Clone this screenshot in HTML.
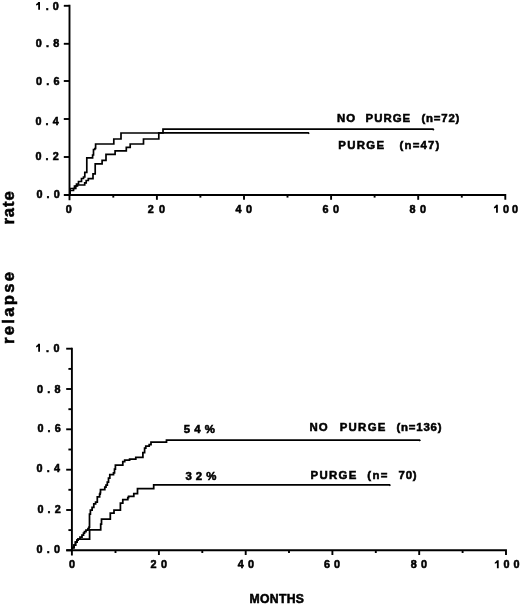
<!DOCTYPE html>
<html><head><meta charset="utf-8"><style>
html,body{margin:0;padding:0;background:#fff;width:520px;height:605px;overflow:hidden}
svg{display:block;will-change:transform}
text{font-family:"Liberation Sans",sans-serif;font-weight:bold;fill:#000;stroke:#000;stroke-width:0.55px}
</style></head><body>
<svg width="520" height="605" viewBox="0 0 520 605">
<g fill="none" stroke="#000" stroke-width="1.9" stroke-linecap="butt">
<path d="M69.5,4.8V200.3M64.2,195.0H505.3V199.8" />
<path d="M63.8,5.8H69.5" />
<path d="M63.8,43.8H69.5" />
<path d="M63.8,81.0H69.5" />
<path d="M63.8,119.0H69.5" />
<path d="M63.8,157.0H69.5" />
<path d="M63.8,195.0H69.5" />
<path d="M156.9,195.0V199.8" />
<path d="M244.0,195.0V199.8" />
<path d="M331.1,195.0V199.8" />
<path d="M418.2,195.0V199.8" />
<path d="M113.3,195.0V197.6" />
<path d="M200.4,195.0V197.6" />
<path d="M287.5,195.0V197.6" />
<path d="M374.6,195.0V197.6" />
<path d="M461.8,195.0V197.6" />
<path d="M71.9,347.7V555.5M66.3,550.3H506V555" />
<path d="M66.2,348.7H71.9" />
<path d="M68.4,368.9H71.9" />
<path d="M66.2,389.0H71.9" />
<path d="M68.4,409.2H71.9" />
<path d="M66.2,429.3H71.9" />
<path d="M68.4,449.5H71.9" />
<path d="M66.2,469.7H71.9" />
<path d="M68.4,489.8H71.9" />
<path d="M66.2,510.0H71.9" />
<path d="M68.4,530.1H71.9" />
<path d="M66.2,550.3H71.9" />
<path d="M115.5,550.3V553" />
<path d="M158.9,550.3V555" />
<path d="M202.3,550.3V553" />
<path d="M245.7,550.3V555" />
<path d="M289.0,550.3V553" />
<path d="M332.4,550.3V555" />
<path d="M375.8,550.3V553" />
<path d="M419.2,550.3V555" />
<path d="M462.6,550.3V553" />
</g>
<g fill="none" stroke="#000" stroke-width="1.7" stroke-linejoin="miter" stroke-linecap="butt">
<path d="M70,194 V188.5 H74.5 V186 H76.5 V184 H78.5 V181.5 H81.5 V178.5 H83.5 V177 H84.8 V172.3 H86.8 V157.8 H92.6 V155 H93.5 V149.5 H94.8 V148.5 H95.6 V144 H113.8 V139 H121 V133 H163 V129.1 H433 l0.8,1"/>
<path d="M70,194 V190.5 H73.5 V188.5 H75.8 V186 H77.5 V185 H84.7 V182.8 H86.2 V180.5 H88.3 V178.6 H93 V173.8 H95.2 V163.8 H102.1 V160.3 H106 V154.3 H115.1 V150.8 H126.3 V147.4 H130.2 V144 H143.5 V139 H158.8 V132.8 H308.3 l0.8,1"/>
</g>
<g fill="none" stroke="#000" stroke-width="1.75" stroke-linejoin="miter" stroke-linecap="butt">
<path d="M72.4,549 V547.5 H74 V545 H75.5 V542 H77 V540 H78 V539 H80 V537 H82 V535 H83.5 V533 H84.5 V531.5 H86 V530 H88 V528.5 H89 V527 H89.5 V514.2 H90.4 V510.2 H92.1 V507.3 H93.8 V503.8 H95.6 V502 H97.3 V496.9 H99.6 V494 H100.2 V492.5 H100.5 V489.6 H104.8 V487.1 H106 V485 H107.3 V482.1 H108.5 V478 H109.8 V474.7 H113.5 V472.8 H114.5 V469 H115.4 V465 H122.8 V461.5 H124.7 V460 H129.6 V459.2 H135.8 V457.3 H142.9 V452.5 H144.6 V448 H145.8 V446.2 H149.2 V444.5 H151 V442.1 H166.5 V440 H419.5 l0.8,1"/>
<path d="M72.4,549 V547.5 H74 V545 H75.5 V542 H77 V540 H78 V539 H89.6 V529.8 H100.7 V524 H101.5 V519.2 H110.3 V513 H114 V510 H120.4 V503.2 H122.8 V499.5 H127.8 V497.7 H128.6 V496.4 H133.8 V493.6 H137.5 V488.6 H153.7 V484.8 H389.5 l0.8,1"/>
</g>
<g>
<text x="45.80 52.80" y="9.75" font-size="10.8">.0</text>
<text x="35.8" y="47.45" font-size="10.8" letter-spacing="4.2" text-anchor="start" >0.8</text>
<text x="36.0" y="84.95" font-size="10.8" letter-spacing="4.2" text-anchor="start" >0.6</text>
<text x="35.4" y="124.55" font-size="10.8" letter-spacing="4.2" text-anchor="start" >0.4</text>
<text x="35.4" y="160.35" font-size="10.8" letter-spacing="4.2" text-anchor="start" >0.2</text>
<text x="36.4" y="198.45" font-size="10.8" letter-spacing="4.2" text-anchor="start" >0.0</text>
<text x="46.10 53.40" y="351.65" font-size="10.8">.0</text>
<text x="37.0" y="392.95" font-size="10.8" letter-spacing="4.2" text-anchor="start" >0.8</text>
<text x="37.4" y="431.95" font-size="10.8" letter-spacing="4.2" text-anchor="start" >0.6</text>
<text x="36.6" y="472.35" font-size="10.8" letter-spacing="4.2" text-anchor="start" >0.4</text>
<text x="37.4" y="512.85" font-size="10.8" letter-spacing="4.2" text-anchor="start" >0.2</text>
<text x="36.6" y="552.95" font-size="10.8" letter-spacing="4.2" text-anchor="start" >0.0</text>
<text x="65.70" y="212.7" font-size="10.8">0</text>
<text x="147.80 158.90" y="212.7" font-size="10.8">20</text>
<text x="235.50 245.90" y="212.7" font-size="10.8">40</text>
<text x="322.60 333.00" y="212.7" font-size="10.8">60</text>
<text x="409.50 419.90" y="212.7" font-size="10.8">80</text>
<text x="503.10 512.00" y="212.7" font-size="10.8">00</text>
<text x="68.90" y="568.1" font-size="10.8">0</text>
<text x="150.50 160.90" y="568.1" font-size="10.8">20</text>
<text x="237.70 247.90" y="568.1" font-size="10.8">40</text>
<text x="323.90 333.90" y="568.1" font-size="10.8">60</text>
<text x="410.70 420.90" y="568.1" font-size="10.8">80</text>
<text x="503.60 513.50" y="568.1" font-size="10.8">00</text>
<text x="337" y="121.8" font-size="11.4" letter-spacing="1.0" text-anchor="start" >NO</text>
<text x="365.6" y="121.6" font-size="11.4" letter-spacing="1.0" text-anchor="start" >PURGE</text>
<text x="421.5" y="121.8" font-size="11.4" letter-spacing="0.8" text-anchor="start" >(n=72)</text>
<text x="338.3" y="148.7" font-size="11.4" letter-spacing="1.3" text-anchor="start" >PURGE</text>
<text x="399.5" y="148.7" font-size="11.4" letter-spacing="1.2" text-anchor="start" >(n=47)</text>
<text x="309.5" y="431.3" font-size="11.4" letter-spacing="1.0" text-anchor="start" >NO</text>
<text x="339.7" y="431.3" font-size="11.4" letter-spacing="1.3" text-anchor="start" >PURGE</text>
<text x="396.5" y="431.3" font-size="11.4" letter-spacing="0.8" text-anchor="start" >(n=136)</text>
<text x="310.6" y="478.8" font-size="11.4" letter-spacing="1.3" text-anchor="start" >PURGE</text>
<text x="367.2" y="478.8" font-size="11.4" letter-spacing="1.4" text-anchor="start" >(n=</text>
<text x="398.5" y="478.8" font-size="11.4" letter-spacing="0.8" text-anchor="start" >70)</text>
<text x="183.8" y="433.2" font-size="11.4" letter-spacing="4.1" text-anchor="start" >54%</text>
<text x="185.4" y="479.8" font-size="11.4" letter-spacing="4.1" text-anchor="start" >32%</text>
<text x="249.6" y="603.2" font-size="12.2" letter-spacing="0.3" text-anchor="start" >MONTHS</text>
<text x="0" y="0" font-size="16.6" letter-spacing="1.0" text-anchor="start" transform="translate(14.0,224.6) rotate(-90)">rate</text>
<text x="0" y="0" font-size="16.6" letter-spacing="2.3" text-anchor="start" transform="translate(14.0,344.0) rotate(-90)">relapse</text>
</g>
<g fill="#000" stroke="none">
<path d="M38.20,1.90 H40.00 V9.85 H38.20 V4.70 L36.10,5.50 V4.10 Q37.70,3.40 38.20,1.90 Z" />
<path d="M38.20,343.80 H40.00 V351.75 H38.20 V346.60 L36.10,347.40 V346.00 Q37.70,345.30 38.20,343.80 Z" />
<path d="M496.05,204.85 H497.85 V212.80 H496.05 V207.65 L493.95,208.45 V207.05 Q495.55,206.35 496.05,204.85 Z" />
<path d="M496.90,560.25 H498.70 V568.20 H496.90 V563.05 L494.80,563.85 V562.45 Q496.40,561.75 496.90,560.25 Z" />
</g>
</svg>
</body></html>
